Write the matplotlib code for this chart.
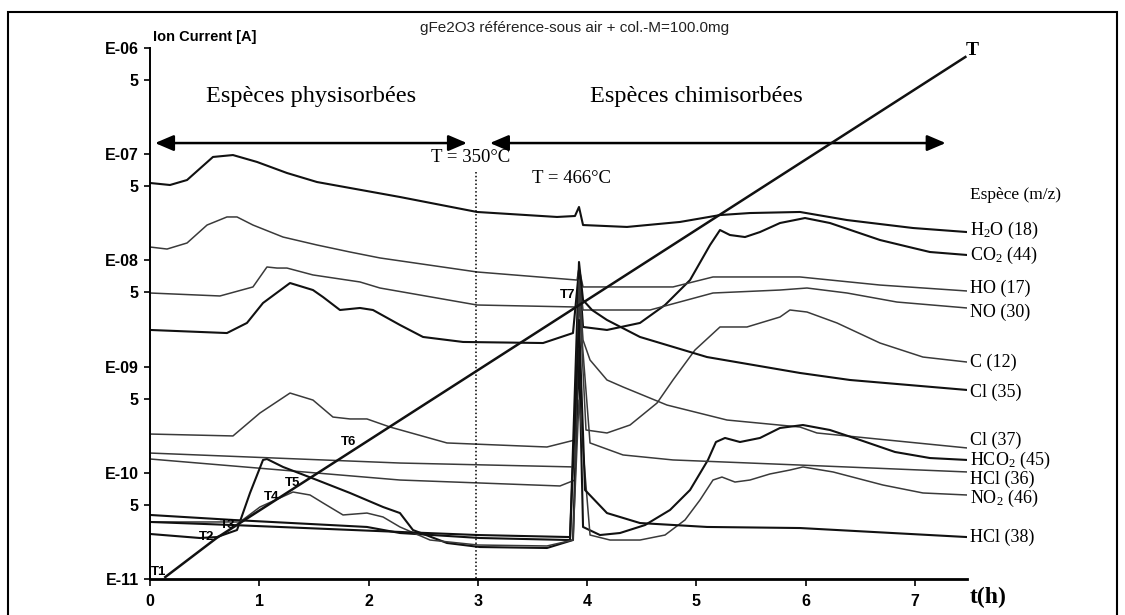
import numpy as np
import matplotlib
matplotlib.use("Agg")
import matplotlib.pyplot as plt
from matplotlib.patches import Rectangle
from matplotlib.ticker import NullLocator

plt.rcParams['mathtext.fontset'] = 'custom'
plt.rcParams['mathtext.rm'] = 'Liberation Serif'
plt.rcParams['mathtext.it'] = 'Liberation Serif:italic'
plt.rcParams['mathtext.bf'] = 'Liberation Serif:bold'

SANS = 'Liberation Sans'
SERIF = 'Liberation Serif'

# time in hours, ion current given as log10(I / A)
h2o_t = [0, 0.183, 0.339, 0.576, 0.759, 0.979, 1.253, 1.528, 2.287, 2.992, 3.724, 3.888,
         3.925, 3.962, 4.364, 4.849, 5.215, 5.489, 5.947, 6.377, 6.981, 7.475]
h2o_L = [-7.271, -7.290, -7.243, -7.026, -7.008, -7.073, -7.177, -7.262, -7.403, -7.544, -7.591, -7.582,
         -7.497, -7.667, -7.685, -7.638, -7.573, -7.554, -7.544, -7.620, -7.695, -7.733]

ho_t = [0, 0.156, 0.339, 0.522, 0.704, 0.796, 0.942, 1.217, 1.528, 1.830, 2.104, 2.992,
        3.907, 3.925, 3.962, 4.785, 5.151, 5.947, 6.679, 7.475]
ho_L = [-7.874, -7.893, -7.836, -7.667, -7.591, -7.591, -7.667, -7.780, -7.855, -7.921, -7.977, -8.109,
        -8.185, -8.072, -8.250, -8.250, -8.156, -8.156, -8.232, -8.288]

no_t = [0, 0.640, 0.942, 1.070, 1.162, 1.253, 1.491, 1.921, 2.104, 2.992, 3.907, 3.925,
        3.962, 4.575, 5.151, 5.764, 6.011, 6.377, 6.834, 7.475]
no_L = [-8.307, -8.335, -8.250, -8.062, -8.072, -8.072, -8.137, -8.203, -8.260, -8.420, -8.439, -8.137,
        -8.467, -8.467, -8.307, -8.279, -8.260, -8.307, -8.392, -8.448]

co2_t = [0, 0.704, 0.887, 1.034, 1.281, 1.491, 1.583, 1.738, 1.921, 2.040, 2.287, 2.498, 2.864,
         3.596, 3.870, 3.925, 3.962, 4.181, 4.483, 4.712, 4.941, 5.124, 5.215, 5.306, 5.444, 5.581,
         5.764, 5.993, 6.221, 6.679, 6.981, 7.136, 7.475]
co2_L = [-8.655, -8.684, -8.589, -8.401, -8.213, -8.279, -8.345, -8.467, -8.448, -8.467, -8.608, -8.721, -8.768,
         -8.778, -8.684, -8.090, -8.627, -8.655, -8.589, -8.420, -8.185, -7.855, -7.714, -7.761, -7.780, -7.733,
         -7.648, -7.601, -7.648, -7.808, -7.883, -7.921, -7.949]

c12_t = [0, 0.759, 1.006, 1.281, 1.491, 1.674, 1.830, 1.985, 2.196, 2.717, 3.632, 3.888, 3.925,
         3.989, 4.181, 4.392, 4.639, 4.785, 4.986, 5.215, 5.462, 5.764, 5.855, 6.011, 6.285, 6.679,
         7.072, 7.475]
c12_L = [-9.635, -9.653, -9.437, -9.249, -9.315, -9.475, -9.493, -9.493, -9.569, -9.719, -9.757, -9.691, -8.279,
         -9.597, -9.625, -9.550, -9.343, -9.126, -8.844, -8.627, -8.627, -8.533, -8.467, -8.486, -8.589, -8.778,
         -8.910, -8.957]

cl35_t = [0, 0.759, 1.985, 2.287, 3.019, 3.843, 3.925, 3.962, 4.044, 4.181, 4.483, 5.096, 5.947, 6.404, 7.475]
cl35_L = [-10.397, -10.444, -10.510, -10.567, -10.614, -10.633, -8.015, -8.373, -8.467, -8.561, -8.721,
          -8.910, -9.060, -9.126, -9.220]

cl37_t = [0, 2.287, 3.751, 3.888, 3.925, 3.962, 4.026, 4.181, 4.328, 4.730, 5.279, 5.947, 6.102, 7.475]
cl37_L = [-9.870, -10.068, -10.124, -10.068, -8.185, -8.750, -8.938, -9.126, -9.192, -9.362, -9.503,
          -9.569, -9.625, -9.766]

hco2_t = [0, 0.457, 0.613, 0.796, 0.915, 1.034, 1.070, 1.217, 1.528, 1.830, 2.132, 2.287, 2.406, 2.717,
          3.019, 3.632, 3.870, 3.925, 3.962, 4.117, 4.300, 4.529, 4.758, 4.941, 5.105, 5.178, 5.261,
          5.398, 5.581, 5.764, 5.974, 6.221, 6.496, 6.816, 7.136, 7.475]
hco2_L = [-10.576, -10.614, -10.605, -10.539, -10.190, -9.879, -9.870, -9.945, -10.068, -10.190, -10.322,
          -10.379, -10.539, -10.661, -10.699, -10.708, -10.633, -8.844, -10.510, -10.586, -10.567, -10.492,
          -10.350, -10.162, -9.879, -9.710, -9.672, -9.710, -9.672, -9.578, -9.550, -9.597, -9.691, -9.804,
          -9.861, -9.879]

hcl36_t = [0, 2.287, 3.888, 3.925, 4.026, 4.328, 4.785, 5.947, 7.475]
hcl36_L = [-9.814, -9.908, -9.945, -8.373, -9.719, -9.832, -9.879, -9.927, -9.992]

no2_t = [0, 0.823, 1.006, 1.308, 1.464, 1.583, 1.766, 1.985, 2.132, 2.287, 2.562, 3.001, 3.632, 3.870,
         3.925, 4.026, 4.209, 4.483, 4.712, 4.895, 5.032, 5.151, 5.233, 5.352, 5.489, 5.672, 5.855,
         5.974, 6.249, 6.706, 7.072, 7.475]
no2_L = [-10.463, -10.463, -10.322, -10.181, -10.209, -10.284, -10.397, -10.379, -10.416, -10.510, -10.633,
         -10.680, -10.689, -10.633, -9.315, -10.586, -10.633, -10.633, -10.586, -10.444, -10.256, -10.068,
         -10.040, -10.087, -10.068, -10.011, -9.974, -9.945, -9.992, -10.115, -10.190, -10.209]

hcl38_t = [0, 0.759, 2.287, 3.001, 3.843, 3.925, 3.980, 4.181, 4.483, 5.096, 5.947, 7.475]
hcl38_L = [-10.463, -10.492, -10.557, -10.586, -10.605, -8.561, -10.162, -10.379, -10.473, -10.510,
           -10.520, -10.605]

# label text and log10 position at right end
species = ['H$_2$O (18)', 'CO$_2$ (44)', 'HO (17)', 'NO (30)', 'C (12)', 'Cl (35)',
           'Cl (37)', 'HCO$_2$ (45)', 'HCl (36)', 'NO$_2$ (46)', 'HCl (38)']
species_L = [-7.714, -7.949, -8.260, -8.486, -8.957, -9.239, -9.691, -9.879, -10.058, -10.237, -10.605]

# temperature ramp (no scale on the original)
temp_h = [0.14, 0.61, 7.46]
temp_c = [25, 92, 917]
t_marks = ['T1', 'T2', 'T3', 'T4', 'T5', 'T6', 'T7']
t_marks_h = [0.08, 0.52, 0.71, 1.11, 1.30, 1.82, 3.82]
t_marks_L = [-10.93, -10.60, -10.49, -10.23, -10.10, -9.71, -8.33]

boundary_h = 2.98

fig = plt.figure(figsize=(11.25, 6.15), dpi=100)
ax = fig.add_axes([150/1125, 36/615, 817/1125, 531/615])

dark = dict(color='#111111', lw=1.5)
light = dict(color='#3a3a3a', lw=1.1)
curves = [(h2o_t, h2o_L, dark), (co2_t, co2_L, dark), (ho_t, ho_L, light), (no_t, no_L, light),
          (c12_t, c12_L, light), (cl35_t, cl35_L, dark), (cl37_t, cl37_L, light),
          (hco2_t, hco2_L, dark), (hcl36_t, hcl36_L, light), (no2_t, no2_L, light),
          (hcl38_t, hcl38_L, dark)]
for t, L, st in curves:
    ax.plot(t, 10 ** np.array(L), **st)

ax.set_yscale('log')
ax.set_xlim(0, 7.475)
ax.set_ylim(1e-11, 1e-6)

major = [1e-6, 5e-7, 1e-7, 5e-8, 1e-8, 5e-9, 1e-9, 5e-10, 1e-10, 5e-11, 1e-11]
major_lab = ['E-06', '5', 'E-07', '5', 'E-08', '5', 'E-09', '5', 'E-10', '5', 'E-11']
ax.set_yticks(major, major_lab)
ax.yaxis.set_minor_locator(NullLocator())
ax.set_xticks(range(8), [str(i) for i in range(8)])
for lab in ax.get_yticklabels() + ax.get_xticklabels():
    lab.set_fontfamily(SANS)
    lab.set_fontweight('bold')
    lab.set_fontsize(11.5)
ax.tick_params(axis='y', length=4, width=1.2, pad=4)
ax.tick_params(axis='x', length=5, width=1.2, pad=6)
ax.spines['top'].set_visible(False)
ax.spines['right'].set_visible(False)
ax.spines['left'].set_linewidth(1.4)
ax.spines['bottom'].set_linewidth(2)
ax.patch.set_alpha(0)

# temperature line
ax2 = ax.twinx()
ax2.set_ylim(21.6, 932.4)
ax2.plot(temp_h, temp_c, color='#111111', lw=1.8)
ax2.axis('off')

for s, hx, ly in zip(t_marks, t_marks_h, t_marks_L):
    ax.text(hx, 10 ** ly, s, family=SANS, fontsize=9.5, fontweight='bold', ha='center', va='center')

# boundary physisorbed / chemisorbed
ax.plot([boundary_h, boundary_h], [10 ** -7.17, 1e-11], color='black', lw=1.1, ls=(0, (1, 1.5)))
arrow_y = 10 ** -6.895
ap = dict(arrowstyle='<|-|>,head_length=0.75,head_width=0.32', color='black', lw=1.8,
          mutation_scale=15, shrinkA=0, shrinkB=0)
ax.annotate('', xy=(0.046, arrow_y), xytext=(2.90, arrow_y), arrowprops=ap)
ax.annotate('', xy=(3.11, arrow_y), xytext=(7.28, arrow_y), arrowprops=ap)

ax.text(1.47, 10 ** -6.46, 'Espèces physisorbées', family=SERIF, fontsize=17.5, ha='center', va='center')
ax.text(5.0, 10 ** -6.46, 'Espèces chimisorbées', family=SERIF, fontsize=17.5, ha='center', va='center')
ax.text(2.93, 10 ** -7.035, 'T = 350°C', family=SERIF, fontsize=13.5, ha='center', va='center')
ax.text(3.86, 10 ** -7.225, 'T = 466°C', family=SERIF, fontsize=13.5, ha='center', va='center')

for s, ly in zip(species, species_L):
    ax.text(7.50, 10 ** ly, s, family=SERIF, fontsize=13, ha='left', va='center', clip_on=False)
ax.text(7.50, 10 ** -7.384, 'Espèce (m/z)', family=SERIF, fontsize=12.5, ha='left', va='center', clip_on=False)
ax.text(7.46, 10 ** -6.02, 'T', family=SERIF, fontsize=14, fontweight='bold', ha='left', va='center', clip_on=False)
ax.text(7.50, 10 ** -11.17, 't(h)', family=SERIF, fontsize=17, fontweight='bold', ha='left', va='center', clip_on=False)

fig.text(153/1125, 1 - 37/615, 'Ion Current [A]', family=SANS, fontsize=10.5, fontweight='bold',
         ha='left', va='center')
fig.text(575/1125, 1 - 28/615, 'gFe2O3 référence-sous air + col.-M=100.0mg', family=SANS,
         fontsize=11, color='#222222', ha='center', va='center')

fig.patches.append(Rectangle((8/1125, -0.02), 1109/1125, 1.0 - 12/615 + 0.02, transform=fig.transFigure,
                             fill=False, edgecolor='black', lw=1.5))

plt.savefig('out.png', dpi=100)
